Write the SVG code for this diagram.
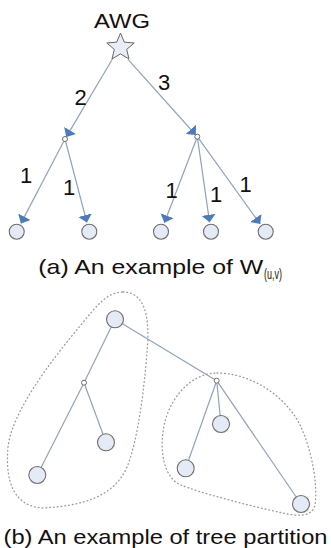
<svg xmlns="http://www.w3.org/2000/svg" width="331" height="548" viewBox="0 0 331 548">
<defs>
<style>
.edge{stroke:#8fa3bf;stroke-width:1.2;fill:none}
.arr{marker-end:url(#ah)}
.leaf{fill:#e4eaf6;stroke:#6e6e6e;stroke-width:1.1}
.dot{fill:#fff;stroke:#6e6e6e;stroke-width:1}
.blob{fill:none;stroke:#9a9a9a;stroke-width:1.3;stroke-dasharray:0.8 3;stroke-linecap:round}
.t{font-family:"Liberation Sans",Arial,sans-serif;font-size:21px;fill:#111}
.n{font-family:"Liberation Sans",Arial,sans-serif;font-size:22px;fill:#111;text-anchor:middle}
</style>
<marker id="ah" markerUnits="userSpaceOnUse" viewBox="0 -7 7.5 14" refX="7.5" refY="0" markerWidth="7.5" markerHeight="14" orient="auto">
<path d="M0,-7 L7.5,0 L0,7 Z" fill="#4a7bbf"/>
</marker>
</defs>
<rect width="331" height="548" fill="#fff"/>

<g id="connectors">
<line class="edge arr" x1="112.3" y1="59.3" x2="66.3" y2="136.9"/>
<line class="edge arr" x1="128" y1="59.3" x2="195.8" y2="135"/>
<line class="edge arr" x1="65" y1="139" x2="20.9" y2="223.4"/>
<line class="edge arr" x1="65" y1="139" x2="86.9" y2="222.5"/>
<line class="edge arr" x1="197.3" y1="136.7" x2="164.4" y2="222.8"/>
<line class="edge arr" x1="197.3" y1="136.7" x2="209.6" y2="222.3"/>
<line class="edge arr" x1="197.3" y1="136.7" x2="260.2" y2="224"/>
<line class="edge" x1="115" y1="319.3" x2="84" y2="382.7"/>
<line class="edge" x1="115" y1="319.3" x2="216.7" y2="380.7"/>
<line class="edge" x1="84" y1="382.7" x2="37.3" y2="475"/>
<line class="edge" x1="84" y1="382.7" x2="106" y2="442.3"/>
<line class="edge" x1="216.7" y1="380.7" x2="221" y2="424"/>
<line class="edge" x1="216.7" y1="380.7" x2="185.7" y2="468.3"/>
<line class="edge" x1="216.7" y1="380.7" x2="301" y2="504"/>
</g>

<g id="partitions">
<path class="blob" d="M123,292 C150,292 149,330 147,352 C144,390 138,440 127,467 C114,497 82,506 42,508 C14,506 5,482 8,447 C12,412 50,362 80,326 C95,308 106,292 123,292 Z"/>
<path class="blob" d="M217,373 C250,373 285,395 300,425 C312,450 318,485 315,505 C312,518 296,516 283,513 C250,506 200,493 181,485 C164,478 160,452 163,432 C167,400 190,373 217,373 Z"/>
</g>

<g id="awg">
<polygon points="120.5,33 124.3,42.1 134.2,43 126.7,49.4 129,59 120.5,53.9 112,59 114.3,49.4 106.8,43 116.7,42.1" fill="#e8eef8" stroke="#666" stroke-width="1"/>
<text class="t" x="94" y="28" textLength="56" lengthAdjust="spacingAndGlyphs">AWG</text>
</g>
<g id="a-mid-left"><circle class="dot" cx="65" cy="139" r="2.5"/></g>
<g id="a-mid-right"><circle class="dot" cx="197.3" cy="136.7" r="2.5"/></g>
<g id="a-leaf1"><circle class="leaf" cx="16.7" cy="231.7" r="7.5"/></g>
<g id="a-leaf2"><circle class="leaf" cx="89.3" cy="231.7" r="7.5"/></g>
<g id="a-leaf3"><circle class="leaf" cx="161" cy="231.7" r="7.5"/></g>
<g id="a-leaf4"><circle class="leaf" cx="211" cy="231.7" r="7.5"/></g>
<g id="a-leaf5"><circle class="leaf" cx="265.7" cy="231.7" r="7.5"/></g>

<g id="labels-a">
<text class="n" x="80.5" y="105">2</text>
<text class="n" x="164" y="90">3</text>
<text class="n" x="26" y="183">1</text>
<text class="n" x="69" y="195">1</text>
<text class="n" x="171.5" y="198">1</text>
<text class="n" x="216" y="202">1</text>
<text class="n" x="245.5" y="192">1</text>
</g>
<g id="caption-a">
<text class="t" x="38.3" y="274" textLength="225" lengthAdjust="spacingAndGlyphs">(a) An example of W</text>
<text class="t" x="264" y="279" style="font-size:14px" textLength="18" lengthAdjust="spacingAndGlyphs">(u,v)</text>
</g>

<g id="b-root"><circle class="leaf" cx="115" cy="319.3" r="8.5"/></g>
<g id="b-mid-left"><circle class="dot" cx="84" cy="382.7" r="2.5"/></g>
<g id="b-mid-right"><circle class="dot" cx="216.7" cy="380.7" r="2.5"/></g>
<g id="b-leaf1"><circle class="leaf" cx="37.3" cy="475" r="8.5"/></g>
<g id="b-leaf2"><circle class="leaf" cx="106" cy="442.3" r="8.5"/></g>
<g id="b-leaf3"><circle class="leaf" cx="221" cy="424" r="8.5"/></g>
<g id="b-leaf4"><circle class="leaf" cx="185.7" cy="468.3" r="8.5"/></g>
<g id="b-leaf5"><circle class="leaf" cx="301" cy="504" r="8.5"/></g>

<g id="caption-b">
<text class="t" x="3.5" y="544" textLength="324" lengthAdjust="spacingAndGlyphs">(b) An example of tree partition</text>
</g>
</svg>
